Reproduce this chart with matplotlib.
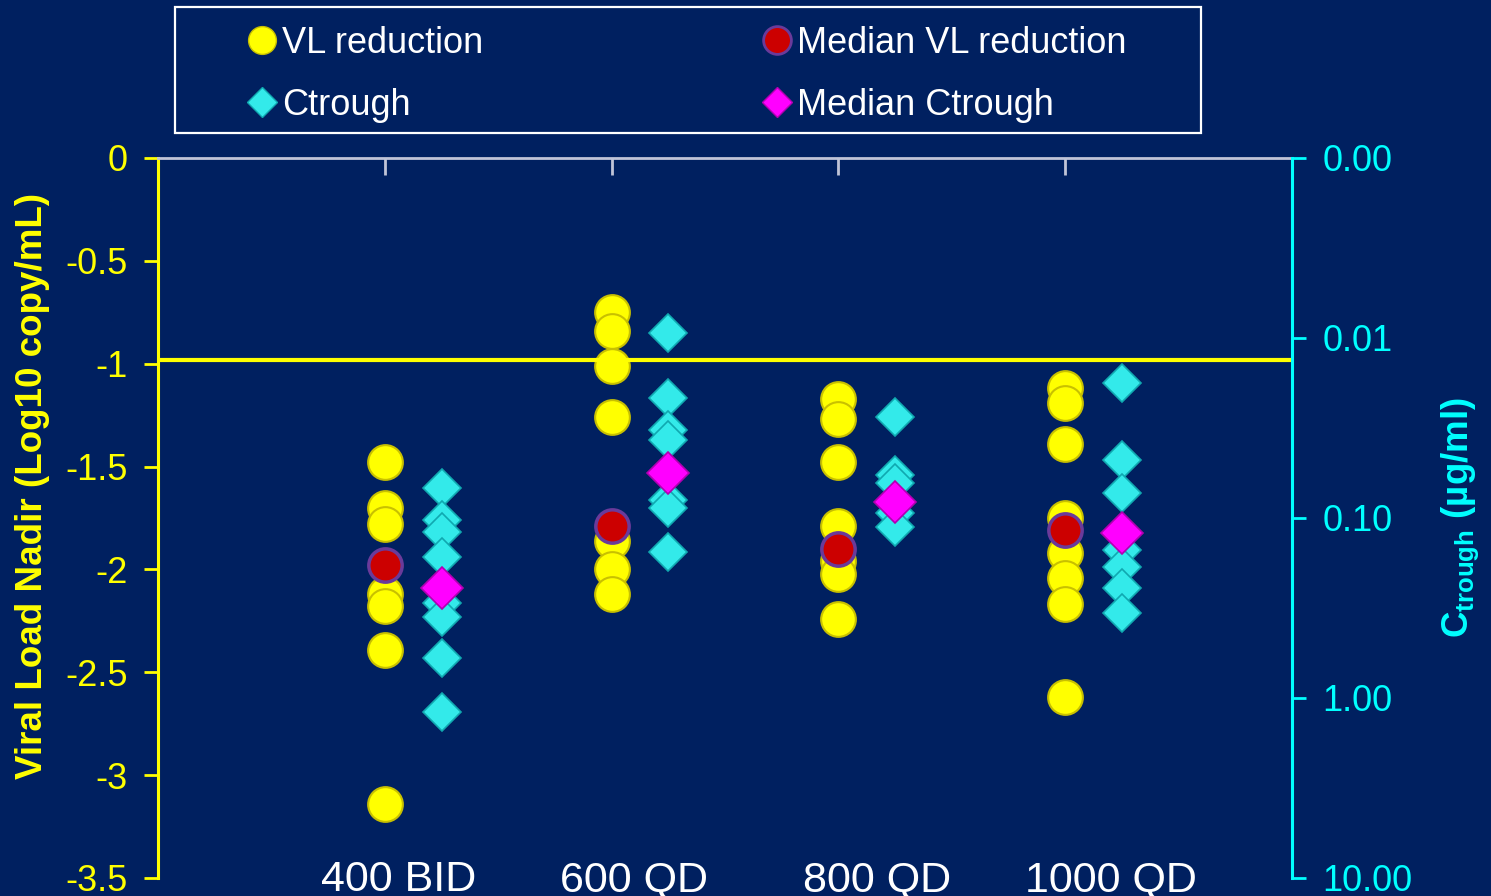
import matplotlib.pyplot as plt
import matplotlib.transforms as mtransforms
import numpy as np
from matplotlib.patches import Rectangle
from matplotlib.lines import Line2D

plt.rcParams['font.family'] = ['Liberation Sans', 'DejaVu Sans']
plt.rcParams['mathtext.fontset'] = 'custom'
plt.rcParams['mathtext.bf'] = 'Liberation Sans:bold'
plt.rcParams['mathtext.rm'] = 'Liberation Sans'

# dose groups
doses = ['400 BID', '600 QD', '800 QD', '1000 QD']

# viral load nadir (log10 copy/mL), one list per dose
vl_400bid = [-1.48, -1.70, -1.78, -2.12, -2.18, -2.39, -3.14]
vl_600qd = [-0.75, -0.84, -1.01, -1.26, -1.86, -2.00, -2.12]
vl_800qd = [-1.17, -1.27, -1.48, -1.79, -1.96, -2.02, -2.24]
vl_1000qd = [-1.12, -1.19, -1.39, -1.75, -1.92, -2.04, -2.17, -2.62]
vl_median = [-1.98, -1.79, -1.90, -1.81]

# trough concentrations (ug/ml)
ct_400bid = [0.068, 0.103, 0.12, 0.165, 0.296, 0.355, 0.60, 1.20]
ct_600qd = [0.0094, 0.0215, 0.0324, 0.0369, 0.079, 0.088, 0.155]
ct_800qd = [0.0275, 0.0577, 0.064, 0.094, 0.112]
ct_1000qd = [0.0178, 0.0477, 0.0726, 0.151, 0.187, 0.245, 0.337]
ct_median = [0.245, 0.056, 0.0815, 0.121]

threshold = -0.98

left_ticks = [0, -0.5, -1, -1.5, -2, -2.5, -3, -3.5]
left_labels = ['0', '-0.5', '-1', '-1.5', '-2', '-2.5', '-3', '-3.5']
right_ticks = [0.001, 0.01, 0.1, 1, 10]
right_labels = ['0.00', '0.01', '0.10', '1.00', '10.00']

bg = '#002060'
yellow = '#ffff00'
cyan = '#00ffff'

fig = plt.figure(figsize=(14.91, 8.96), dpi=100, facecolor=bg)
ax = fig.add_axes([0.106, 0.0201, 0.7606, 0.8036])
ax.set_facecolor(bg)
ax2 = ax.twinx()
ax2.set_facecolor('none')

xpos = np.arange(1, len(doses) + 1)
shift = 0.25  # diamonds sit right of the spheres

vl_groups = [vl_400bid, vl_600qd, vl_800qd, vl_1000qd]
ct_groups = [ct_400bid, ct_600qd, ct_800qd, ct_1000qd]

for x, vals in zip(xpos, vl_groups):
    ax.plot([x] * len(vals), vals, 'o', ms=25, color=yellow,
            mec='#c8c000', mew=1.5, zorder=3)
ax.plot(xpos, vl_median, 'o', ms=24, color='#cc0000', mec='#6a3a9a',
        mew=2.5, zorder=4)
ax.axhline(threshold, color=yellow, lw=3, zorder=5)

for x, vals in zip(xpos, ct_groups):
    ax2.plot([x + shift] * len(vals), vals, 'D', ms=19, color='#33eaea',
             mec='#10a8b0', mew=1.2, zorder=3)
ax2.plot(xpos + shift, ct_median, 'D', ms=21, color='#ff00ff',
         mec='#b000b0', mew=1.2, zorder=4)

ax.set_xlim(0, 5)
ax.set_ylim(-3.5, 0)
ax.set_yticks(left_ticks)
ax.set_yticklabels(left_labels)
ax.tick_params(axis='y', colors=yellow, length=10, width=2, labelsize=26, pad=12)
ax.xaxis.set_ticks_position('top')
ax.set_xticks(xpos)
ax.set_xticklabels([])
ax.tick_params(axis='x', direction='in', colors='#c0c4d8', length=12, width=2)

ax2.set_yscale('log')
ax2.set_ylim(10, 0.001)
ax2.set_yticks(right_ticks)
ax2.set_yticklabels(right_labels)
ax2.minorticks_off()
ax2.tick_params(axis='y', colors=cyan, length=10, width=2, labelsize=26, pad=12)

for a in (ax, ax2):
    a.spines['bottom'].set_visible(False)
ax.spines['right'].set_visible(False)
ax2.spines['left'].set_visible(False)
ax2.spines['top'].set_visible(False)
ax.spines['left'].set_color(yellow)
ax.spines['left'].set_linewidth(2.2)
ax.spines['top'].set_color('#c0c4d8')
ax.spines['top'].set_linewidth(2)
ax2.spines['right'].set_color(cyan)
ax2.spines['right'].set_linewidth(2.2)

# category names under the plot (data x, figure y)
trans = mtransforms.blended_transform_factory(ax.transData, fig.transFigure)
label_x = [1.06, 2.10, 3.17, 4.20]
for lx, name in zip(label_x, doses):
    ax.text(lx, 0.0402, name, transform=trans, ha='center', va='top',
            color='white', fontsize=31, clip_on=False)

fig.text(0.022, 0.4576, 'Viral Load Nadir (Log10 copy/mL)', rotation=90,
         ha='center', va='center', color=yellow, fontsize=26.5, fontweight='bold')
fig.text(0.979, 0.4219, r'C$_{\mathbf{trough}}$ (µg/ml)', rotation=90,
         ha='center', va='center', color=cyan, fontsize=26.5, fontweight='bold')

# legend with a square white frame
fig.patches.append(Rectangle((0.1174, 0.8516), 0.6881, 0.1406, transform=fig.transFigure,
                             fill=False, edgecolor='white', lw=1.6))
handles = [
    Line2D([], [], ls='none', marker='o', ms=20, color=yellow, mec='#c8c000'),
    Line2D([], [], ls='none', marker='D', ms=15, color='#33eaea', mec='#10a8b0'),
    Line2D([], [], ls='none', marker='o', ms=20, color='#cc0000', mec='#6a3a9a', mew=2),
    Line2D([], [], ls='none', marker='D', ms=15, color='#ff00ff', mec='#b000b0'),
]
names = ['VL reduction', 'Ctrough', 'Median VL reduction', 'Median Ctrough']
leg = fig.legend(handles, names, ncol=2, loc='upper left', bbox_to_anchor=(0.166, 0.971),
                 frameon=False, fontsize=26, handlelength=0.8, handletextpad=0.15,
                 columnspacing=7.75, labelspacing=0.75, borderpad=0, borderaxespad=0)
for t in leg.get_texts():
    t.set_color('white')

fig.savefig('out.png', dpi=100, facecolor=bg)
